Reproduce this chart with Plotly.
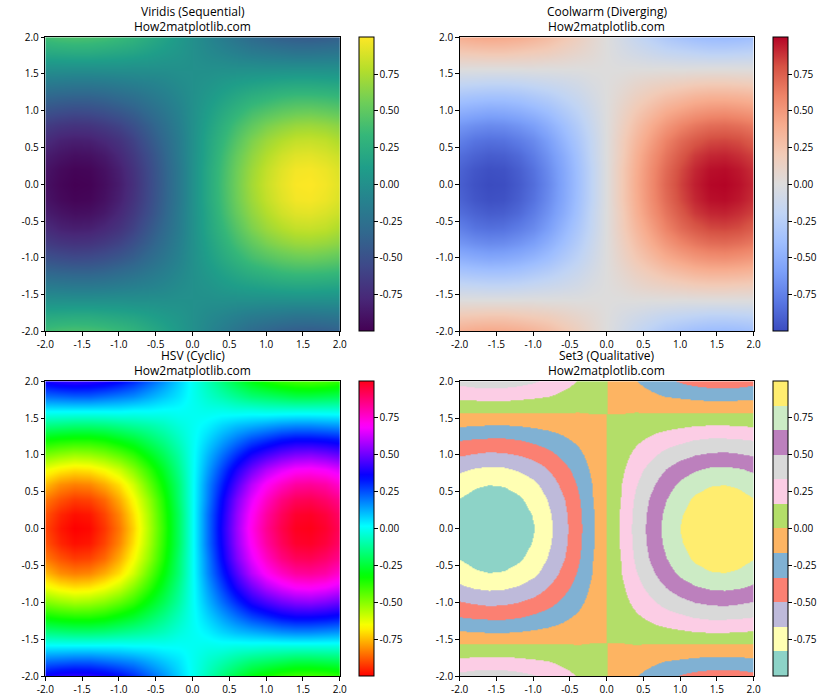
import plotly.graph_objects as go

# Heat-map values, rows from y=-2.0 up to y=2.0
x_values = [-2.0, -1.8, -1.6, -1.4, -1.2, -1.0, -0.8, -0.6, -0.4, -0.2, 0.0,
            0.2, 0.4, 0.6, 0.8, 1.0, 1.2, 1.4, 1.6, 1.8, 2.0]
y_values = list(x_values)

row_m20 = [.38, .41, .42, .41, .39, .35, .30, .23, .16, .08, 0, -.08, -.16, -.23, -.30, -.35, -.39, -.41, -.42, -.41, -.38]
row_m18 = [.21, .22, .23, .23, .21, .19, .17, .13, .09, .05, 0, -.05, -.09, -.13, -.17, -.19, -.21, -.23, -.23, -.22, -.21]
row_m16 = [.03, .03, .03, .03, .03, .03, .02, .02, .01, .01, 0, -.01, -.01, -.02, -.02, -.03, -.03, -.03, -.03, -.03, -.03]
row_m14 = [-.15, -.16, -.17, -.17, -.16, -.14, -.12, -.10, -.07, -.03, 0, .03, .07, .10, .12, .14, .16, .17, .17, .16, .15]
row_m12 = [-.33, -.35, -.36, -.36, -.34, -.30, -.26, -.20, -.14, -.07, 0, .07, .14, .20, .26, .30, .34, .36, .36, .35, .33]
row_m10 = [-.49, -.52, -.54, -.53, -.50, -.45, -.39, -.30, -.21, -.11, 0, .11, .21, .30, .39, .45, .50, .53, .54, .52, .49]
row_m08 = [-.64, -.68, -.70, -.69, -.65, -.59, -.50, -.39, -.27, -.14, 0, .14, .27, .39, .50, .59, .65, .69, .70, .68, .64]
row_m06 = [-.75, -.81, -.83, -.82, -.77, -.70, -.60, -.46, -.32, -.17, 0, .17, .32, .46, .60, .70, .77, .82, .83, .81, .75]
row_m04 = [-.84, -.89, -.92, -.91, -.86, -.77, -.66, -.52, -.36, -.18, 0, .18, .36, .52, .66, .77, .86, .91, .92, .89, .84]
row_m02 = [-.89, -.95, -.98, -.97, -.91, -.82, -.70, -.55, -.38, -.20, 0, .20, .38, .55, .70, .82, .91, .97, .98, .95, .89]
row_00 = [-.91, -.97, -1.0, -.99, -.93, -.84, -.72, -.56, -.39, -.20, 0, .20, .39, .56, .72, .84, .93, .99, 1.0, .97, .91]
row_p02 = [-.89, -.95, -.98, -.97, -.91, -.82, -.70, -.55, -.38, -.20, 0, .20, .38, .55, .70, .82, .91, .97, .98, .95, .89]
row_p04 = [-.84, -.89, -.92, -.91, -.86, -.77, -.66, -.52, -.36, -.18, 0, .18, .36, .52, .66, .77, .86, .91, .92, .89, .84]
row_p06 = [-.75, -.81, -.83, -.82, -.77, -.70, -.60, -.46, -.32, -.17, 0, .17, .32, .46, .60, .70, .77, .82, .83, .81, .75]
row_p08 = [-.64, -.68, -.70, -.69, -.65, -.59, -.50, -.39, -.27, -.14, 0, .14, .27, .39, .50, .59, .65, .69, .70, .68, .64]
row_p10 = [-.49, -.52, -.54, -.53, -.50, -.45, -.39, -.30, -.21, -.11, 0, .11, .21, .30, .39, .45, .50, .53, .54, .52, .49]
row_p12 = [-.33, -.35, -.36, -.36, -.34, -.30, -.26, -.20, -.14, -.07, 0, .07, .14, .20, .26, .30, .34, .36, .36, .35, .33]
row_p14 = [-.15, -.16, -.17, -.17, -.16, -.14, -.12, -.10, -.07, -.03, 0, .03, .07, .10, .12, .14, .16, .17, .17, .16, .15]
row_p16 = [.03, .03, .03, .03, .03, .03, .02, .02, .01, .01, 0, -.01, -.01, -.02, -.02, -.03, -.03, -.03, -.03, -.03, -.03]
row_p18 = [.21, .22, .23, .23, .21, .19, .17, .13, .09, .05, 0, -.05, -.09, -.13, -.17, -.19, -.21, -.23, -.23, -.22, -.21]
row_p20 = [.38, .41, .42, .41, .39, .35, .30, .23, .16, .08, 0, -.08, -.16, -.23, -.30, -.35, -.39, -.41, -.42, -.41, -.38]

z_values = [row_m20, row_m18, row_m16, row_m14, row_m12, row_m10, row_m08,
            row_m06, row_m04, row_m02, row_00, row_p02, row_p04, row_p06,
            row_p08, row_p10, row_p12, row_p14, row_p16, row_p18, row_p20]

axis_ticks = [-2.0, -1.5, -1.0, -0.5, 0.0, 0.5, 1.0, 1.5, 2.0]
axis_labels = ["-2.0", "-1.5", "-1.0", "-0.5", "0.0", "0.5", "1.0", "1.5", "2.0"]
bar_ticks = [-0.75, -0.5, -0.25, 0.0, 0.25, 0.5, 0.75]
bar_labels = ["-0.75", "-0.50", "-0.25", "0.00", "0.25", "0.50", "0.75"]

titles = ["Viridis (Sequential)", "Coolwarm (Diverging)", "HSV (Cyclic)", "Set3 (Qualitative)"]
subtitle = "How2matplotlib.com"

coolwarm_colors = ["#3b4cc0", "#5977e3", "#7b9ff9", "#9ebeff", "#c0d4f5", "#dddcdc",
                   "#f2cbb7", "#f7ac8e", "#ee8468", "#d65244", "#b40426"]
coolwarm = [[i / 10, c] for i, c in enumerate(coolwarm_colors)]

hsv = [[0.0, "rgb(255,0,0)"], [0.15873, "rgb(255,239,0)"], [0.174603, "rgb(247,255,0)"],
       [0.333333, "rgb(8,255,0)"], [0.349206, "rgb(0,255,16)"], [0.507937, "rgb(0,255,255)"],
       [0.666667, "rgb(0,16,255)"], [0.68254, "rgb(8,0,255)"], [0.84127, "rgb(247,0,255)"],
       [0.857143, "rgb(255,0,239)"], [1.0, "rgb(255,0,24)"]]

set3_colors = ["#8dd3c7", "#ffffb3", "#bebada", "#fb8072", "#80b1d3", "#fdb462",
               "#b3de69", "#fccde5", "#d9d9d9", "#bc80bd", "#ccebc5", "#ffed6f"]
set3 = []
for i, c in enumerate(set3_colors):
    set3.append([i / 12, c])
    set3.append([(i + 1) / 12, c])

scales = ["Viridis", coolwarm, hsv, set3]

W, H = 840, 700
FONT = "Open Sans"
INK = "#000000"

# pixel boxes in the window: (left, right, top, bottom, colourbar left)
boxes = [(45.3, 339.8, 37.2, 331.3, 359.3),
         (459.6, 753.6, 37.2, 331.3, 772.8),
         (45.3, 339.8, 381.2, 676.0, 359.3),
         (459.6, 753.6, 381.2, 676.0, 772.8)]

fig = go.Figure()
annotations = []
for i, (box, scale, title) in enumerate(zip(boxes, scales, titles)):
    left, right, top, bottom, bar_left = box
    n = "" if i == 0 else str(i + 1)
    fig.add_trace(go.Heatmap(
        x=x_values, y=y_values, z=z_values, zmin=-1, zmax=1, zsmooth="best",
        colorscale=scale, xaxis="x" + n, yaxis="y" + n,
        hoverinfo="skip",
        colorbar=dict(
            x=bar_left / W, xref="paper", xanchor="left", xpad=0, ypad=0,
            y=1 - (top + bottom) / 2 / H, yref="paper", yanchor="middle",
            len=(bottom - top) / H, lenmode="fraction", thickness=14.5,
            outlinecolor=INK, outlinewidth=1,
            ticks="outside", ticklen=3.5, tickwidth=1, tickcolor=INK,
            tickmode="array", tickvals=bar_ticks, ticktext=bar_labels,
            tickfont=dict(family=FONT, size=10, color=INK),
        ),
    ))
    axis_style = dict(
        range=[-2, 2], showgrid=False, zeroline=False, showline=True, mirror=True,
        linecolor=INK, linewidth=1, ticks="outside", ticklen=3.5, tickwidth=1,
        tickcolor=INK, tickmode="array", tickvals=axis_ticks, ticktext=axis_labels,
        tickangle=0, automargin=False, tickfont=dict(family=FONT, size=10, color=INK),
    )
    fig.update_layout({
        "xaxis" + n: dict(axis_style, domain=[left / W, right / W],
                          anchor="y" + n),
        "yaxis" + n: dict(axis_style, domain=[1 - bottom / H, 1 - top / H],
                          anchor="x" + n),
    })
    for text, rise in ((title, 25.5), (subtitle, 11)):
        annotations.append(dict(
            text=text, xref="paper", yref="paper", x=(left + right) / 2 / W,
            y=1 - (top - rise) / H, xanchor="center", yanchor="middle", showarrow=False,
            borderpad=0, borderwidth=0,
            font=dict(family=FONT, size=12, color=INK),
        ))

fig.update_layout(
    width=W, height=H, autosize=False,
    margin=dict(l=0, r=0, t=0, b=0, pad=0, autoexpand=False),
    paper_bgcolor="white", plot_bgcolor="white",
    annotations=annotations, showlegend=False,
)

# The page's default body margin would push the figure 8 px off the window's corner.
fig.write_html("out.html", post_script="document.body.style.margin='0';",
               config={"displayModeBar": False})
